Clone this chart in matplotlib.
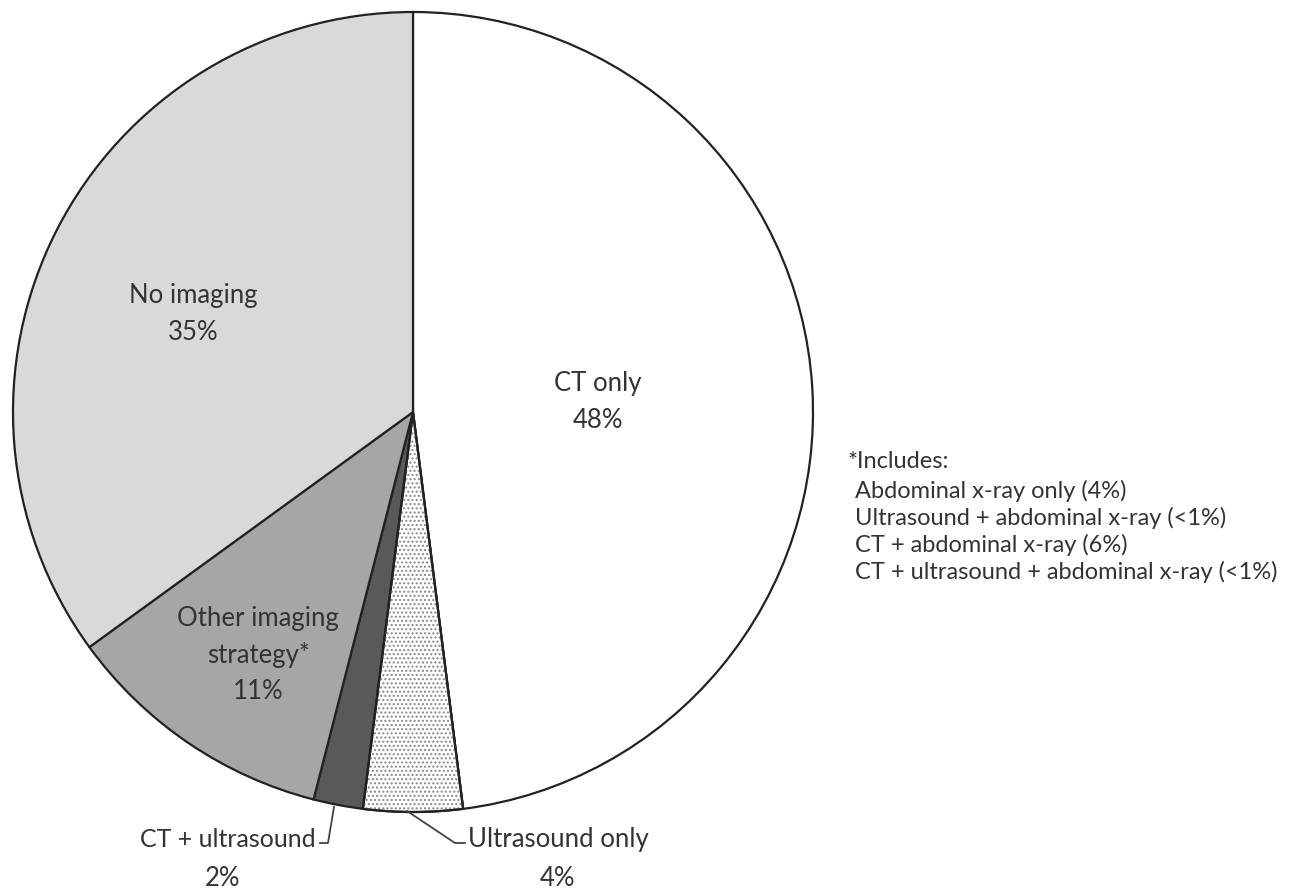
import matplotlib
matplotlib.use("Agg")
import matplotlib.pyplot as plt
from matplotlib.patches import Wedge

categories = ["CT only", "Ultrasound only", "CT + ultrasound", "Other imaging\nstrategy*", "No imaging"]
values = [48, 4, 2, 11, 35]
colors = ["#ffffff", "#ffffff", "#595959", "#a6a6a6", "#d9d9d9"]
footnote_title = "*Includes:"
footnote_lines = ["Abdominal x-ray only (4%)",
                  "Ultrasound + abdominal x-ray (<1%)",
                  "CT + abdominal x-ray (6%)",
                  "CT + ultrasound + abdominal x-ray (<1%)"]

W, H = 1305, 895
plt.rcParams['font.family'] = ['Lato', 'DejaVu Sans']
fig = plt.figure(figsize=(W / 100, H / 100), dpi=100)
ax = fig.add_axes([0, 0, 1, 1])

cx, cy, R = 413, H - 413, 400
wedges, _ = ax.pie(values, colors=colors, startangle=90, counterclock=False,
                   center=(cx, cy), radius=R,
                   wedgeprops=dict(edgecolor="#222222", linewidth=1.6))
# dotted fill for Ultrasound only
w = wedges[1]
dots = Wedge((cx, cy), R, w.theta1, w.theta2, facecolor="none",
             edgecolor="#888888", hatch="....", linewidth=0)
ax.add_patch(dots)
w2 = Wedge((cx, cy), R, w.theta1, w.theta2, facecolor="none",
           edgecolor="#222222", linewidth=1.6)
ax.add_patch(w2)

ax.set_xlim(0, W)
ax.set_ylim(0, H)
ax.set_aspect("equal")
ax.axis("off")

fs = 18.5
def lbl(x, y, s, size=fs, ha="center", **kw):
    ax.text(x, H - y, s, ha=ha, va="center", fontsize=size, color="#333333",
            linespacing=1.55, **kw)

lbl(193, 314, f"No imaging\n{values[4]}%")
lbl(598, 402, f"CT only\n{values[0]}%")
lbl(258, 655, f"Other imaging\nstrategy*\n{values[3]}%")
lbl(316, 840, "CT + ultrasound", size=18, ha="right")
lbl(222, 879, f"{values[2]}%")
lbl(558, 840, "Ultrasound only")
lbl(557, 879, f"{values[1]}%")

# leader lines
ax.plot([320, 328, 334], [H - 844, H - 844, H - 808], color="#444444", lw=1.3)
ax.plot([407, 455, 465], [H - 812, H - 844, H - 844], color="#444444", lw=1.3)

# footnote
fs2 = 17
ax.text(848, H - 462, footnote_title, ha="left", va="center", fontsize=fs2, color="#333333")
for i, t in enumerate(footnote_lines):
    ax.text(855, H - (491 + 27 * i), t, ha="left", va="center", fontsize=fs2, color="#333333")

fig.savefig("out.png", dpi=100, facecolor="white")
